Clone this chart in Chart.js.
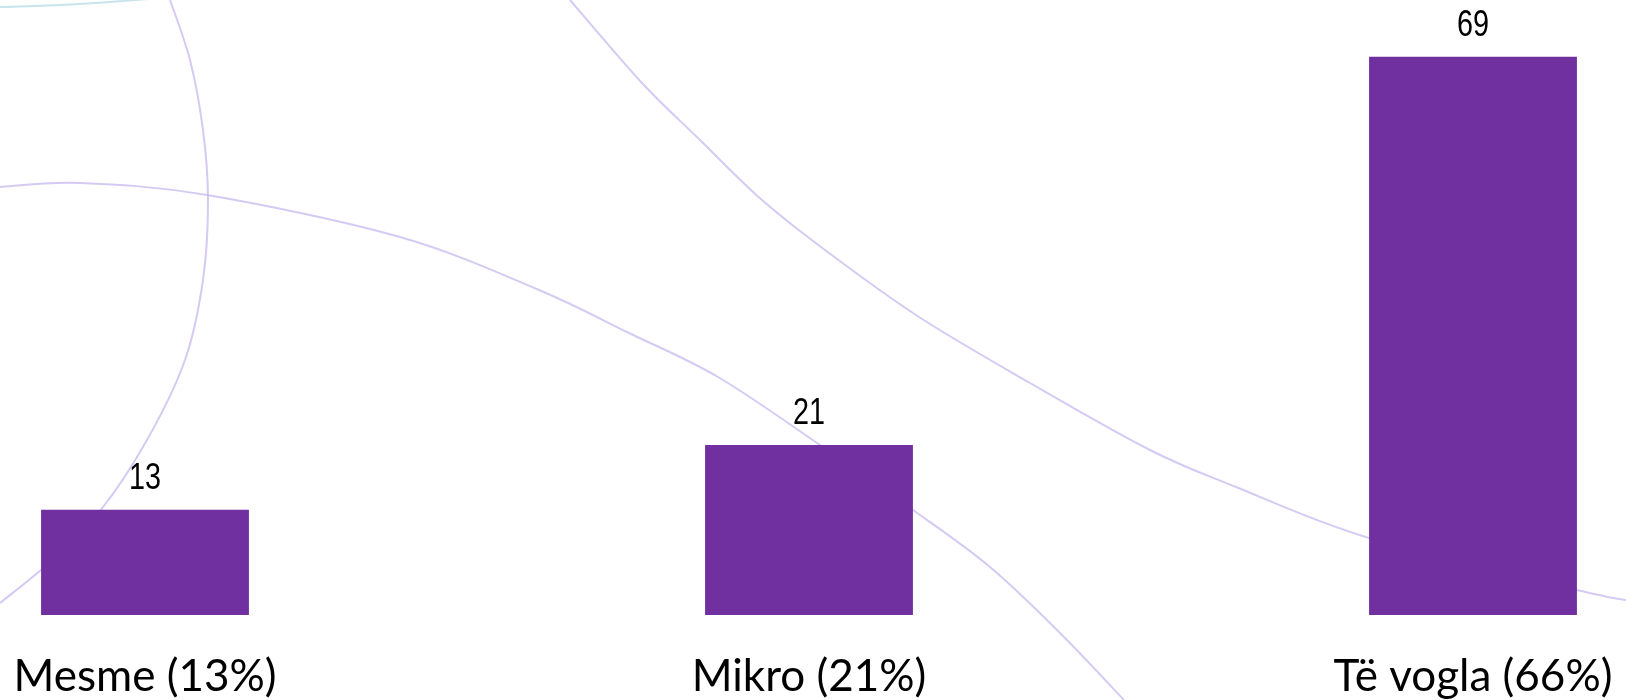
<!DOCTYPE html>
<html>
<head>
<meta charset="utf-8">
<script src="https://cdn.jsdelivr.net/npm/chart.js@4/dist/chart.umd.min.js"></script>
<style>
    html, body { margin: 0; padding: 0; background: #fff; }
    #wrap { width: 1626px; height: 700px; }
</style>
</head>
<body>
<div id="wrap"><canvas id="sizeChart" width="1626" height="700"></canvas></div>
<script>
const categories = ["Mesme (13%)", "Mikro (21%)", "Të vogla (66%)"];
const counts = [13, 21, 69];

const BAR_COLOR = "#7030a0";

// decorative background lines (slide template), not data
const decoCurves = [
    { color: "rgba(195,180,238,0.7)", pts: [[170,0],[190,60],[203,130],[208,200],[203,280],[185,360],[147,440],[100,511],[50,562],[0,603]] },
    { color: "rgba(195,180,238,0.7)", pts: [[0,187],[80,183],[207,195],[400,237],[539,290],[629,333],[718,377],[820,445],[913,510],[990,567],[1060,633],[1124,700]] },
    { color: "rgba(195,180,238,0.7)", pts: [[570,0],[642,83],[700,140],[762,200],[829,253],[919,317],[1030,383],[1150,450],[1236,487],[1369,538],[1577,590],[1626,600]] },
    { color: "rgba(175,215,230,0.7)", pts: [[0,7],[60,5],[110,2],[160,-2]] }
];

function smoothPath(ctx, pts) {
    ctx.beginPath();
    ctx.moveTo(pts[0][0], pts[0][1]);
    for (let i = 0; i < pts.length - 1; i++) {
        const p0 = pts[i - 1] || pts[i];
        const p1 = pts[i];
        const p2 = pts[i + 1];
        const p3 = pts[i + 2] || p2;
        ctx.bezierCurveTo(
            p1[0] + (p2[0] - p0[0]) / 6, p1[1] + (p2[1] - p0[1]) / 6,
            p2[0] - (p3[0] - p1[0]) / 6, p2[1] - (p3[1] - p1[1]) / 6,
            p2[0], p2[1]
        );
    }
    ctx.stroke();
}

const background = {
    id: "background",
    beforeDraw(chart) {
        const ctx = chart.ctx;
        ctx.save();
        ctx.fillStyle = "#fff";
        ctx.fillRect(0, 0, chart.width, chart.height);
        ctx.lineWidth = 2;
        decoCurves.forEach(c => {
            ctx.strokeStyle = c.color;
            smoothPath(ctx, c.pts);
        });
        ctx.restore();
    }
};

// numbers above the bars, condensed like Arial Narrow
const valueLabels = {
    id: "valueLabels",
    afterDatasetsDraw(chart) {
        const ctx = chart.ctx;
        ctx.save();
        ctx.fillStyle = "#000";
        ctx.font = "36px 'Liberation Sans', Arial, sans-serif";
        ctx.textAlign = "center";
        ctx.textBaseline = "alphabetic";
        chart.getDatasetMeta(0).data.forEach((bar, i) => {
            ctx.save();
            ctx.translate(bar.x, bar.y - 21);
            ctx.scale(0.8, 1);
            ctx.fillText(String(counts[i]), 0, 0);
            ctx.restore();
        });
        ctx.restore();
    }
};

new Chart(document.getElementById("sizeChart"), {
    type: "bar",
    data: {
        labels: categories,
        datasets: [{
            data: counts,
            backgroundColor: BAR_COLOR,
            borderWidth: 0,
            barPercentage: 0.313,
            categoryPercentage: 1,
            clip: false
        }]
    },
    options: {
        responsive: false,
        animation: false,
        layout: { padding: { left: 145, right: 153, top: 0, bottom: 0 } },
        plugins: {
            legend: { display: false },
            tooltip: { enabled: false }
        },
        scales: {
            x: {
                offset: false,
                grid: { display: false },
                border: { display: false },
                ticks: {
                    color: "#000",
                    font: { family: "Lato", size: 44 },
                    padding: 27,
                    autoSkip: false,
                    maxRotation: 0
                },
                afterFit(scale) {
                    scale.height = 85;
                    // edge labels may overhang; the layout padding handles that
                    scale.paddingLeft = 0;
                    scale.paddingRight = 0;
                }
            },
            y: {
                display: false,
                min: 0,
                max: 76
            }
        }
    },
    plugins: [background, valueLabels]
});
</script>
</body>
</html>
